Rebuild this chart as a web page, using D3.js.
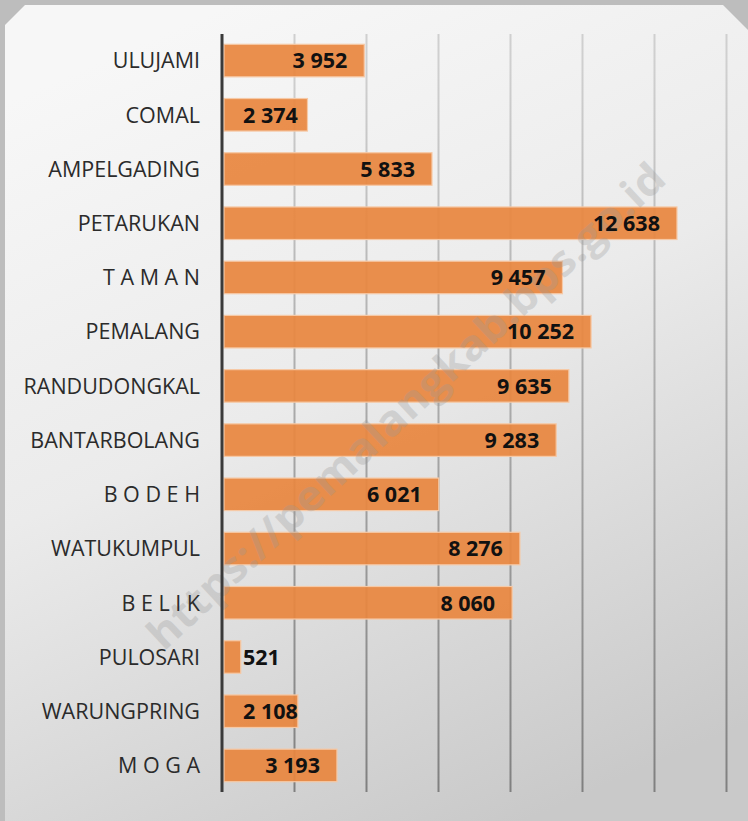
<!DOCTYPE html>
<html>
<head>
<meta charset="utf-8">
<script src="https://cdn.jsdelivr.net/npm/d3@7"></script>
<style>
  body { margin: 0; background: #fff; }
  svg { display: block; }
  .cat { font-family: "Open Sans", sans-serif; font-size: 21.5px; fill: #2b2b2b; }
  .val { font-family: "Open Sans", sans-serif; font-size: 21.5px; font-weight: 700; fill: #111; }
</style>
</head>
<body>
<div id="chart"></div>
<script>
// kecamatan (top to bottom)
const categories = [
  "ULUJAMI", "COMAL", "AMPELGADING", "PETARUKAN", "T A M A N", "PEMALANG",
  "RANDUDONGKAL", "BANTARBOLANG", "B O D E H", "WATUKUMPUL", "B E L I K",
  "PULOSARI", "WARUNGPRING", "M O G A"
];
const values = [3952, 2374, 5833, 12638, 9457, 10252, 9635, 9283, 6021, 8276, 8060, 521, 2108, 3193];
const valueLabels = ["3 952", "2 374", "5 833", "12 638", "9 457", "10 252", "9 635", "9 283",
  "6 021", "8 276", "8 060", "521", "2 108", "3 193"];
const gridTicks = [2000, 4000, 6000, 8000, 10000, 12000, 14000];
const watermark = "https://pemalangkab.bps.go.id";

const width = 748;
const height = 821;
const margin = { top: 34, right: 22, bottom: 29, left: 222 };

const svg = d3.select("#chart").append("svg")
  .attr("width", width)
  .attr("height", height);

const defs = svg.append("defs");

// card background
const bg = defs.append("linearGradient")
  .attr("id", "bg")
  .attr("x1", "0.3").attr("y1", "0")
  .attr("x2", "0.7").attr("y2", "1");
bg.append("stop").attr("offset", "0%").attr("stop-color", "#f7f7f7");
bg.append("stop").attr("offset", "45%").attr("stop-color", "#ebebeb");
bg.append("stop").attr("offset", "100%").attr("stop-color", "#c9c9c9");

// grid line shading, light at top, dark at bottom
const gg = defs.append("linearGradient")
  .attr("id", "gridgrad")
  .attr("gradientUnits", "userSpaceOnUse")
  .attr("x1", 0).attr("y1", margin.top)
  .attr("x2", 0).attr("y2", height - margin.bottom);
gg.append("stop").attr("offset", "0%").attr("stop-color", "#cfcfcf");
gg.append("stop").attr("offset", "100%").attr("stop-color", "#7c7c7c");

svg.append("rect")
  .attr("width", width).attr("height", height)
  .attr("fill", "#bdbdbd");

const c = 20;
svg.append("path")
  .attr("d", `M5,${5 + c} L${5 + c},5 L${width - 5 - c},5 L${width},${5 + c + 5} L${width},${height} L5,${height} Z`)
  .attr("fill", "url(#bg)");

// scales
const x = d3.scaleLinear()
  .domain([0, 14000])
  .range([margin.left, width - margin.right]);

const y = d3.scaleBand()
  .domain(categories)
  .range([margin.top, height - margin.bottom])
  .paddingInner(0.4)
  .paddingOuter(0.19);

// vertical grid
const gridAxis = d3.axisBottom(x)
  .tickValues(gridTicks)
  .tickSize(height - margin.bottom - margin.top)
  .tickFormat("");

const gridG = svg.append("g")
  .attr("transform", `translate(0,${margin.top})`)
  .call(gridAxis);
gridG.select(".domain").remove();
gridG.selectAll(".tick line")
  .attr("stroke", "url(#gridgrad)")
  .attr("stroke-width", 2);

// bars
const rows = categories.map((name, i) => ({ name, value: values[i], label: valueLabels[i] }));

svg.append("g")
  .selectAll("rect")
  .data(rows)
  .enter()
  .append("rect")
  .attr("x", x(0) + 2)
  .attr("y", d => y(d.name))
  .attr("width", d => x(d.value) - x(0) - 2)
  .attr("height", y.bandwidth())
  .attr("fill", "#e8873f")
  .attr("fill-opacity", 0.93)
  .attr("stroke", "#f6c9a6")
  .attr("stroke-width", 1.2);

// watermark, over the bars but under the labels
svg.append("text")
  .attr("transform", "translate(406,406) rotate(-43)")
  .attr("text-anchor", "middle")
  .attr("dy", "0.35em")
  .attr("textLength", 690)
  .attr("lengthAdjust", "spacingAndGlyphs")
  .style("font-family", "'Open Sans', sans-serif")
  .style("font-size", "42px")
  .style("font-weight", 700)
  .style("fill", "#999")
  .style("opacity", 0.3)
  .text(watermark);

// value labels, right aligned inside the bar end
const valG = svg.append("g");
valG.selectAll("text")
  .data(rows)
  .enter()
  .append("text")
  .attr("class", "val")
  .attr("text-anchor", "end")
  .attr("y", d => y(d.name) + y.bandwidth() / 2)
  .attr("dy", "0.36em")
  .text(d => d.label)
  .each(function(d) {
    const w = this.getBBox().width;
    const xr = Math.max(x(d.value) - 17, 243 + w);
    d3.select(this).attr("x", xr);
  });

// category labels
svg.append("g")
  .selectAll("text")
  .data(rows)
  .enter()
  .append("text")
  .attr("class", "cat")
  .attr("text-anchor", "end")
  .attr("x", 200)
  .attr("y", d => y(d.name) + y.bandwidth() / 2)
  .attr("dy", "0.36em")
  .text(d => d.name);

// axis line
svg.append("line")
  .attr("x1", x(0)).attr("x2", x(0))
  .attr("y1", margin.top).attr("y2", height - margin.bottom)
  .attr("stroke", "#3a3a3a")
  .attr("stroke-width", 3);
</script>
</body>
</html>
